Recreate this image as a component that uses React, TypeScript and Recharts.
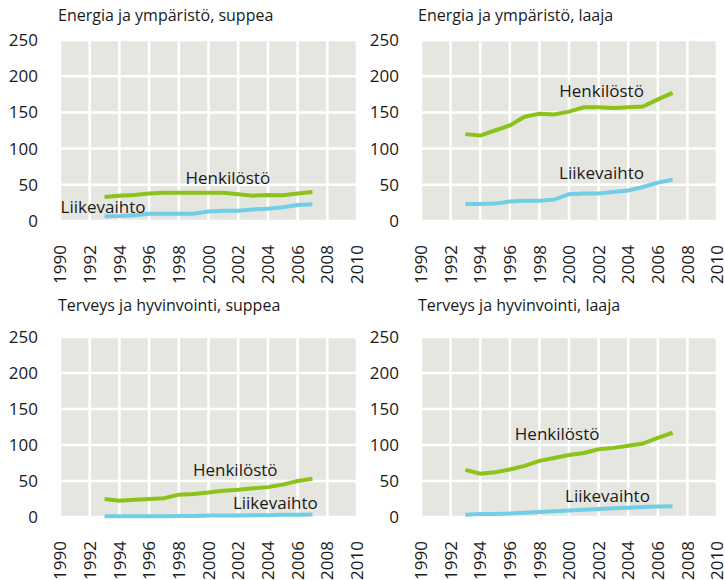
import React from 'react';
import { LineChart, Line, XAxis, YAxis, CartesianGrid, ReferenceDot } from 'recharts';

const years = [1993, 1994, 1995, 1996, 1997, 1998, 1999, 2000, 2001, 2002, 2003, 2004, 2005, 2006, 2007];
const xTicks = [1990, 1992, 1994, 1996, 1998, 2000, 2002, 2004, 2006, 2008, 2010];
const yTicks = [0, 50, 100, 150, 200, 250];

const energySuppeaStaff = [33, 35, 36, 38, 39, 39, 39, 39, 39, 37, 35, 36, 35.5, 38, 40];
const energySuppeaTurnover = [6.5, 7, 8, 10, 10, 10, 10, 13, 14, 14, 16, 17, 19, 22, 23];
const energyLaajaStaff = [120, 118, 125, 132, 144, 148, 147, 151, 157, 157, 156, 157, 158, 168, 177];
const energyLaajaTurnover = [23.5, 23.5, 24, 27, 28, 28, 29.5, 37, 38, 38, 40, 42, 47, 53, 57];
const healthSuppeaStaff = [25, 22.6, 24, 25, 26, 31, 32, 34, 36.5, 38, 40, 41.5, 45, 50, 53];
const healthSuppeaTurnover = [1, 1, 1, 1, 1.2, 1.5, 1.5, 2, 2, 2, 2.5, 2.5, 3, 3, 3.5];
const healthLaajaStaff = [65.5, 60, 62, 66, 71, 78, 82, 86, 89, 94, 96, 99, 102, 110, 117];
const healthLaajaTurnover = [3, 4, 4, 5, 6, 7, 8, 9, 10, 11, 12, 13, 14, 14.5, 15];

const GREEN = '#8dc21a';
const BLUE = '#72cde6';
const GREY = '#e6e6e1';
const INK = '#1a1a1a';
const FONT = '"Open Sans", sans-serif';

type Panel = {
  title: string;
  staff: number[];
  turnover: number[];
  staffLabel: [number, number];
  turnoverLabel: [number, number];
  left: number;
  top: number;
  marginTop: number;
  marginBottom: number;
  yWidth: number;
};

const panels: Panel[] = [
  {
    title: 'Energia ja ympäristö, suppea',
    staff: energySuppeaStaff,
    turnover: energySuppeaTurnover,
    staffLabel: [2001.3, 59],
    turnoverLabel: [1992.9, 19],
    left: 0, top: 0, marginTop: 40, marginBottom: 9, yWidth: 60,
  },
  {
    title: 'Energia ja ympäristö, laaja',
    staff: energyLaajaStaff,
    turnover: energyLaajaTurnover,
    staffLabel: [2002.2, 180],
    turnoverLabel: [2002.2, 66],
    left: 360, top: 0, marginTop: 40, marginBottom: 9, yWidth: 61,
  },
  {
    title: 'Terveys ja hyvinvointi, suppea',
    staff: healthSuppeaStaff,
    turnover: healthSuppeaTurnover,
    staffLabel: [2001.8, 65],
    turnoverLabel: [2004.5, 20],
    left: 0, top: 290, marginTop: 47, marginBottom: 3, yWidth: 60,
  },
  {
    title: 'Terveys ja hyvinvointi, laaja',
    staff: healthLaajaStaff,
    turnover: healthLaajaTurnover,
    staffLabel: [1999.2, 116],
    turnoverLabel: [2002.6, 29.6],
    left: 360, top: 290, marginTop: 47, marginBottom: 3, yWidth: 61,
  },
];

const YearTick = (props: any) => {
  const { x, y, payload } = props;
  const ty = y + 24;
  return (
    <text
      x={x}
      y={ty}
      transform={`rotate(-90, ${x}, ${ty})`}
      textAnchor="end"
      dy="0.36em"
      fill={INK}
      fontSize={17}
      fontFamily={FONT}
    >
      {payload.value}
    </text>
  );
};

const labelStyle = { fill: INK, fontSize: 17, fontFamily: FONT };

const SmallChart = ({ p }: { p: Panel }) => {
  const data = years.map((year, i) => ({ year, staff: p.staff[i], turnover: p.turnover[i] }));
  return (
    <div style={{ position: 'absolute', left: p.left, top: p.top, width: 365, height: 290 }}>
      <div
        style={{
          position: 'absolute',
          left: 58,
          top: 4,
          fontFamily: FONT,
          fontSize: 16,
          color: INK,
          whiteSpace: 'nowrap',
        }}
      >
        {p.title}
      </div>
      <LineChart
        width={365}
        height={290}
        data={data}
        style={{ overflow: 'visible' }}
        margin={{ top: p.marginTop, right: 8, left: 0, bottom: p.marginBottom }}
      >
        <CartesianGrid fill={GREY} stroke="#ffffff" strokeWidth={2.5} verticalValues={xTicks} horizontalValues={yTicks} />
        <XAxis
          dataKey="year"
          type="number"
          domain={[1990, 2010]}
          ticks={xTicks}
          interval={0}
          height={60}
          axisLine={false}
          tickLine={false}
          tickSize={0}
          tickMargin={0}
          tick={<YearTick />}
        />
        <YAxis
          type="number"
          domain={[0, 250]}
          ticks={yTicks}
          interval={0}
          width={p.yWidth}
          axisLine={false}
          tickLine={false}
          tickSize={0}
          tickMargin={22}
          tick={{ fill: INK, fontSize: 17, fontFamily: FONT }}
        />
        <Line type="linear" dataKey="staff" stroke={GREEN} strokeWidth={4} dot={false} isAnimationActive={false} />
        <Line type="linear" dataKey="turnover" stroke={BLUE} strokeWidth={4} dot={false} isAnimationActive={false} />
        <ReferenceDot
          x={p.staffLabel[0]}
          y={p.staffLabel[1]}
          r={0}
          fill="none"
          stroke="none"
          ifOverflow="visible"
          label={{ value: 'Henkilöstö', position: 'center', ...labelStyle }}
        />
        <ReferenceDot
          x={p.turnoverLabel[0]}
          y={p.turnoverLabel[1]}
          r={0}
          fill="none"
          stroke="none"
          ifOverflow="visible"
          label={{ value: 'Liikevaihto', position: 'center', ...labelStyle }}
        />
      </LineChart>
    </div>
  );
};

export default function App() {
  return (
    <div style={{ position: 'absolute', left: 0, top: 0, width: 725, height: 580, background: '#ffffff', overflow: 'hidden' }}>
      {panels.map((p) => (
        <SmallChart key={p.title} p={p} />
      ))}
    </div>
  );
}
